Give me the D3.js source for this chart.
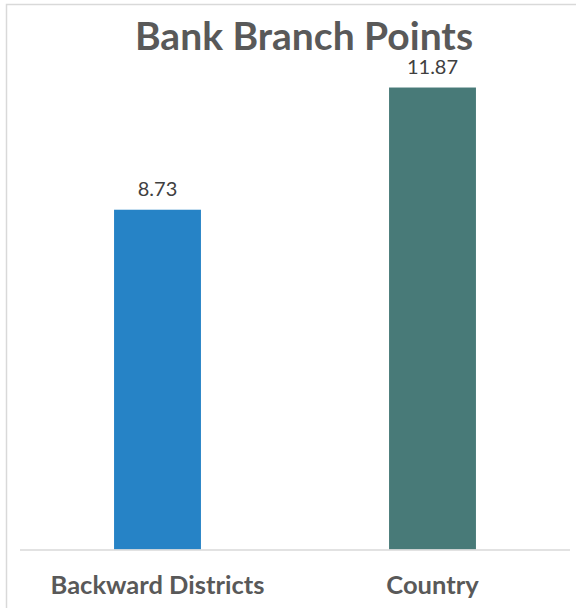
<!DOCTYPE html>
<html>
<head>
<meta charset="utf-8">
<script src="https://cdn.jsdelivr.net/npm/d3@7"></script>
<style>
  html, body { margin: 0; padding: 0; background: #fff; }
  svg { display: block; font-family: Lato, "Open Sans", sans-serif; }
</style>
</head>
<body>
<div id="chart"></div>
<script>
// Données
const categories = ['Backward Districts', 'Country'];
const values = [8.73, 11.87];
const colors = ['#2683c6', '#487a78'];

const width = 576;
const height = 608;

const svg = d3.select('#chart')
  .append('svg')
  .attr('width', width)
  .attr('height', height);

// cadre
svg.append('rect')
  .attr('x', 6.5)
  .attr('y', 4.5)
  .attr('width', width)
  .attr('height', height)
  .attr('fill', '#fff')
  .attr('stroke', '#d9d9d9')
  .attr('stroke-width', 1.5);

// échelles
const x = d3.scaleBand()
  .domain(categories)
  .range([20, 570])
  .paddingInner(0.684)
  .paddingOuter(0.342);

const y = d3.scaleLinear()
  .domain([0, 14])
  .range([549.5, 549.5 - 14 * 38.92]);

// titre
svg.append('text')
  .attr('x', 304)
  .attr('y', 50)
  .attr('text-anchor', 'middle')
  .attr('font-size', 39)
  .attr('font-weight', 'bold')
  .attr('fill', '#595959')
  .text('Bank Branch Points');

const data = categories.map((c, i) => ({ cat: c, val: values[i], color: colors[i] }));

// barres
svg.append('g')
  .selectAll('rect')
  .data(data)
  .join('rect')
  .attr('x', d => x(d.cat))
  .attr('y', d => y(d.val))
  .attr('width', x.bandwidth())
  .attr('height', d => y(0) - y(d.val))
  .attr('fill', d => d.color);

// étiquettes de valeurs
svg.append('g')
  .selectAll('text')
  .data(data)
  .join('text')
  .attr('x', d => x(d.cat) + x.bandwidth() / 2)
  .attr('y', d => y(d.val) - 14)
  .attr('text-anchor', 'middle')
  .attr('font-size', 20)
  .attr('fill', '#404040')
  .text(d => d.val.toFixed(2));

// axe X
const axis = svg.append('g')
  .attr('transform', `translate(0,${y(0)})`)
  .call(d3.axisBottom(x).tickSize(0).tickPadding(26));

axis.select('.domain')
  .attr('d', 'M20,0.5H570')
  .attr('stroke', '#d9d9d9')
  .attr('stroke-width', 1.5);

axis.selectAll('text')
  .attr('font-size', 25.5)
  .attr('font-weight', 'bold')
  .attr('fill', '#595959')
  .attr('font-family', 'Lato, "Open Sans", sans-serif');
</script>
</body>
</html>
